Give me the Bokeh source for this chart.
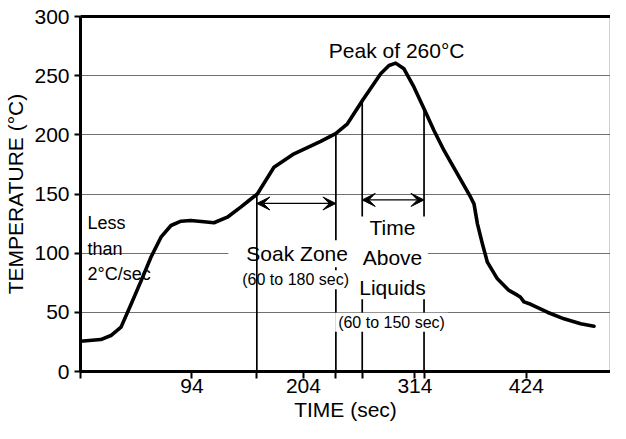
from bokeh.plotting import figure
from bokeh.models import Range1d, FixedTicker, LinearAxis, Label, Arrow, VeeHead
from bokeh.core.properties import value
from bokeh.embed import file_html
from bokeh.resources import INLINE
import numpy as np

# ---------------- data ----------------
time_s = [-16, 4, 14, 24, 34, 44, 53.5, 63.4, 73.3, 83.2, 92.7, 105.8, 115.7, 128.9,
          142.1, 150.3, 158.5, 174.9, 194.7, 221, 235.8, 247.4, 262.2, 280.2, 288.4,
          295, 303.2, 313.1, 323, 332.8, 342.7, 355.9, 369, 372.3, 375.7, 380.6,
          385.5, 395.4, 406.8, 415.1, 418, 421.6, 428.3, 444.7, 461.1, 477.6, 490.7]
temp_c = [25.6, 27, 30.4, 37.5, 57, 77, 96.6, 113.5, 123.4, 127, 127.6, 126.5, 125.7,
          130.4, 138.9, 144.5, 150, 172.6, 184, 194.5, 201, 209.3, 229, 251.6, 258.6,
          260.6, 255.8, 240.3, 222, 203.7, 186.8, 167, 147.3, 141.7, 124.8, 107.9,
          92.4, 78.3, 68.5, 64.5, 63, 58.8, 56.8, 50.1, 44.5, 40.3, 38.3]
x_tick_values = [94, 204, 314, 424]
y_tick_values = [0, 50, 100, 150, 200, 250, 300]
soak_zone = [158, 236]
time_above_liquidus = [262, 323]

x_start, x_end = -16, 507

FONT = "Liberation Sans"

p = figure(width=610, height=423, output_backend="svg", toolbar_location=None,
           x_range=Range1d(x_start, x_end), y_range=Range1d(0, 300),
           min_border_left=80, min_border_right=0, min_border_top=16,
           min_border_bottom=0,
           x_axis_label="TIME (sec)", y_axis_label="TEMPERATURE (°C)")
p.background_fill_color = "white"
p.outline_line_color = "#cfcfcf"
p.outline_line_width = 1

# x axis: labelled ticks plus unlabelled marks at the zone boundaries
marks = [x_start] + soak_zone + time_above_liquidus
p.xaxis.ticker = FixedTicker(ticks=x_tick_values + marks)
p.xaxis.major_label_overrides = {m: "" for m in marks}
p.yaxis.ticker = FixedTicker(ticks=y_tick_values)

for ax in (p.xaxis, p.yaxis):
    ax.axis_line_width = 3
    ax.axis_line_color = "black"
    ax.major_tick_line_width = 2
    ax.major_tick_line_color = "black"
    ax.major_tick_in = 0
    ax.minor_tick_line_color = None
    ax.major_label_text_font = FONT
    ax.major_label_text_font_size = "21px"
    ax.major_label_text_color = "black"
    ax.axis_label_text_font = FONT
    ax.axis_label_text_font_size = "21px"
    ax.axis_label_text_font_style = "normal"
    ax.axis_label_text_color = "black"
p.xaxis.major_tick_out = 7
p.yaxis.major_tick_out = 6
p.xaxis.major_label_standoff = 0
p.yaxis.major_label_standoff = 5
p.xaxis.axis_label_standoff = 2
p.yaxis.axis_label_standoff = 4

top_axis = LinearAxis(ticker=FixedTicker(ticks=[]), axis_line_width=3,
                      axis_line_color="black", major_tick_line_color=None,
                      minor_tick_line_color=None, major_label_text_font_size="0px",
                      major_label_standoff=0)
p.add_layout(top_axis, "above")

p.xgrid.visible = False
p.ygrid.grid_line_color = "#707070"
p.ygrid.grid_line_width = 1

# annotation text without background
p.text(x=[-9, -9, -9], y=[125.7, 103.7, 82.6], text=["Less", "than", "2°C/sec"],
       text_font=value(FONT), text_font_size="18px", text_color="black",
       text_baseline="alphabetic", text_align="left")

# the profile
p.line(time_s, temp_c, line_width=3.6, line_color="black", line_join="round",
       line_cap="round")

# vertical zone boundaries up to the curve
tops_soak = np.interp(soak_zone, time_s, temp_c)
tops_tal = np.interp(time_above_liquidus, time_s, temp_c)
p.segment(x0=[soak_zone[1]] + time_above_liquidus, y0=[0, 0, 0],
          x1=[soak_zone[1]] + time_above_liquidus,
          y1=[tops_soak[1], tops_tal[0], tops_tal[1]],
          line_width=1.7, line_color="black")

# arrows
for (a, b), yy in ((soak_zone, 142), (time_above_liquidus, 145)):
    p.add_layout(Arrow(x_start=a, y_start=yy, x_end=b, y_end=yy, line_width=1.2,
                       line_color="black",
                       start=VeeHead(size=13, fill_color="black", line_color="black", line_width=1),
                       end=VeeHead(size=13, fill_color="black", line_color="black", line_width=1)))

# labels with white boxes
p.add_layout(Label(x=296, y=271, text="Peak of 260°C", text_align="center",
                   text_baseline="alphabetic", text_font=FONT, text_font_size="21px",
                   text_color="black"))
p.add_layout(Label(x=195.8, y=99.5, text="Soak Zone", text_align="center",
                   text_baseline="alphabetic", text_font=FONT, text_font_size="21px",
                   text_color="black", background_fill_color="white",
                   padding=dict(left=18, right=14, top=2, bottom=2)))
p.add_layout(Label(x=196.3, y=77.5, text="(60 to 180 sec)", text_align="center",
                   text_baseline="alphabetic", text_font=FONT, text_font_size="16px",
                   text_color="black", background_fill_color="white",
                   padding=dict(left=1, right=1, top=1, bottom=1)))
p.add_layout(Label(x=291.9, y=131, text="Time\nAbove\nLiquids", text_align="center",
                   text_baseline="top", text_font=FONT, text_font_size="21px",
                   text_line_height=1.3,
                   text_color="black", background_fill_color="white",
                   padding=dict(left=2, right=2, top=0, bottom=0)))
p.add_layout(Label(x=290.9, y=41.7, text="(60 to 150 sec)", text_align="center",
                   text_baseline="alphabetic", text_font=FONT, text_font_size="16px",
                   text_color="black", background_fill_color="white",
                   padding=dict(left=3, right=3, top=1, bottom=1)))

# left soak boundary drawn over the label boxes
p.segment(x0=[soak_zone[0]], y0=[0], x1=[soak_zone[0]], y1=[tops_soak[0]],
          line_width=1.7, line_color="black", level="overlay")

open("out.html", "w").write(file_html(p, INLINE))
